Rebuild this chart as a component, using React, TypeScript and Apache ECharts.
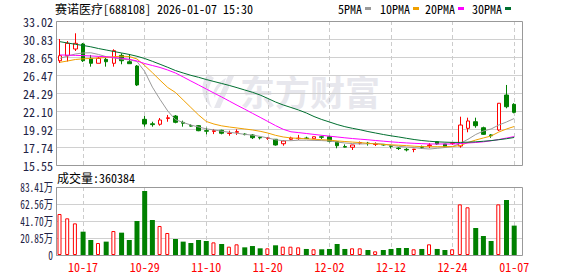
import React, { useEffect, useRef } from 'react';
import * as echarts from 'echarts';

const titleText = '赛诺医疗[688108] 2026-01-07 15:30';
const volumeTitle = '成交量:360384';
const watermark = '东方财富';

const dates = [
  '10-14', '10-15', '10-16', '10-17', '10-20', '10-21', '10-22', '10-23', '10-24', '10-27',
  '10-28', '10-29', '10-30', '10-31', '11-03', '11-04', '11-05', '11-06', '11-07', '11-10',
  '11-11', '11-12', '11-13', '11-14', '11-17', '11-18', '11-19', '11-20', '11-21', '11-24',
  '11-25', '11-26', '11-27', '11-28', '12-01', '12-02', '12-03', '12-04', '12-05', '12-08',
  '12-09', '12-10', '12-11', '12-12', '12-15', '12-16', '12-17', '12-18', '12-19', '12-22',
  '12-23', '12-24', '12-25', '12-26', '12-29', '12-30', '12-31', '01-05', '01-06', '01-07',
];
const labelDates = ['10-17', '10-29', '11-10', '11-20', '12-02', '12-12', '12-24', '01-07'];

const opens = [
  28.2, 28.81, 29.62, 30.23, 28.49, 27.89, 28.37, 27.89, 28.85, 28.08,
  27.56, 21.09, 20.55, 20.49, 21.2, 21.49, 20.72, 20.32, 20.32, 19.72,
  19.62, 19.76, 19.38, 19.52, 19.3, 19.19, 18.9, 18.78, 18.67, 18.13,
  18.67, 18.75, 18.82, 18.74, 18.97, 18.98, 18.38, 17.78, 17.7, 18.2,
  18.2, 18.05, 18.05, 17.88, 17.6, 17.45, 17.43, 17.8, 17.9, 18.38,
  18.1, 18.15, 17.85, 20.0, 20.8, 20.07, 19.2, 19.8, 24.04, 22.91,
];
const closes = [
  28.81, 30.31, 30.31, 28.2, 27.89, 28.49, 28.08, 29.42, 28.2, 27.84,
  25.26, 20.52, 20.45, 21.01, 21.28, 20.73, 20.62, 20.27, 19.71, 19.65,
  19.72, 19.4, 19.43, 19.6, 19.24, 18.86, 18.84, 18.83, 17.98, 18.46,
  18.82, 18.8, 18.76, 18.98, 18.92, 18.42, 17.89, 17.72, 17.98, 18.28,
  18.15, 18.1, 17.98, 17.82, 17.55, 17.38, 17.48, 17.7, 17.98, 18.1,
  17.73, 18.22, 20.4, 20.89, 20.32, 19.27, 19.1, 23.04, 22.62, 21.94,
];
const lows = [
  27.93, 28.11, 29.38, 28.05, 27.48, 27.89, 27.48, 27.48, 27.77, 27.84,
  25.13, 20.2, 20.2, 20.32, 20.8, 20.61, 20.2, 20.2, 19.65, 19.27,
  19.3, 19.27, 19.1, 19.2, 19.15, 18.7, 18.65, 18.6, 17.9, 17.89,
  18.55, 18.6, 18.7, 18.7, 18.7, 18.3, 17.58, 17.68, 17.37, 18.05,
  17.9, 17.85, 17.9, 17.55, 17.37, 17.2, 17.1, 17.5, 17.6, 18.0,
  17.7, 18.0, 17.65, 19.52, 20.07, 19.19, 18.85, 19.67, 22.43, 21.82,
];
const highs = [
  30.84, 30.59, 31.53, 30.35, 28.9, 28.69, 28.69, 29.59, 29.1, 29.02,
  27.68, 21.49, 20.8, 21.25, 21.62, 21.61, 20.93, 20.49, 20.4, 20.07,
  19.92, 19.83, 19.71, 19.88, 19.4, 19.3, 19.0, 18.95, 18.67, 18.58,
  18.98, 19.2, 18.98, 19.0, 19.1, 19.1, 18.38, 18.05, 18.0, 18.4,
  18.35, 18.3, 18.1, 18.0, 17.7, 17.6, 17.5, 17.9, 18.2, 18.4,
  18.1, 18.3, 21.41, 21.29, 21.29, 20.2, 19.3, 23.07, 25.26, 23.04,
];
const volumes = [
  503000, 450000, 388000, 286000, 184000, 147000, 164000, 294000, 274000, 184000,
  417000, 785000, 429000, 356000, 270000, 196000, 164000, 147000, 184000, 172000,
  155000, 135000, 102000, 131000, 94000, 110000, 82000, 82000, 119000, 102000,
  102000, 94000, 74000, 70000, 70000, 74000, 135000, 74000, 82000, 82000,
  61000, 45000, 61000, 74000, 86000, 86000, 70000, 74000, 131000, 74000,
  61000, 70000, 621000, 585000, 331000, 233000, 172000, 621000, 675000, 360384,
];
const ma5 = [
  28.49, 28.77, 29.02, 29.14, 29.17, 28.96, 28.69, 28.53, 28.39, 28.31,
  28.11, 26.9, 25.0, 23.5, 22.1, 21.05, 20.71, 20.4, 20.16, 19.94,
  19.8, 19.65, 19.52, 19.4, 19.27, 19.17, 19.02, 18.83, 18.61, 18.5,
  18.5, 18.56, 18.56, 18.53, 18.51, 18.46, 18.34, 18.22, 18.15, 18.1,
  18.13, 18.17, 18.07, 17.94, 17.82, 17.73, 17.66, 17.55, 17.49, 17.58,
  17.67, 17.79, 18.18, 18.67, 19.25, 19.67, 19.92, 20.4, 20.77, 21.19,
];
const ma10 = [
  28.01, 28.17, 28.35, 28.43, 28.48, 28.53, 28.59, 28.69, 28.75, 28.71,
  28.41, 27.62, 26.75, 25.83, 24.95, 24.35, 23.44, 22.53, 21.62, 20.83,
  20.52, 20.3, 20.16, 20.04, 19.92, 19.8, 19.64, 19.43, 19.15, 18.95,
  18.83, 18.78, 18.73, 18.67, 18.62, 18.57, 18.47, 18.4, 18.33, 18.27,
  18.18, 18.11, 18.05, 18.0, 17.95, 17.9, 17.83, 17.78, 17.77, 17.77,
  17.77, 17.79, 17.91, 18.28, 18.58, 18.83, 19.07, 19.55, 19.92, 20.22,
];
const ma20 = [
  28.9, 28.88, 28.85, 28.82, 28.78, 28.73, 28.68, 28.6, 28.5, 28.38,
  28.17, 27.86, 27.62, 27.38, 27.07, 26.71, 26.23, 25.74, 25.26, 24.77,
  24.28, 23.8, 23.3, 22.8, 22.32, 21.82, 21.33, 20.83, 20.33, 19.88,
  19.58, 19.48, 19.37, 19.26, 19.15, 19.05, 18.95, 18.85, 18.76, 18.68,
  18.61, 18.52, 18.44, 18.36, 18.29, 18.23, 18.18, 18.14, 18.1, 18.1,
  18.1, 18.1, 18.15, 18.22, 18.28, 18.36, 18.49, 18.64, 18.82, 19.0,
];
const ma30 = [
  30.51, 30.35, 30.19, 30.05, 29.89, 29.68, 29.5, 29.32, 29.14, 28.96,
  28.74, 28.47, 28.13, 27.77, 27.4, 27.01, 26.71, 26.43, 26.19, 25.92,
  25.68, 25.44, 25.2, 24.93, 24.65, 24.37, 24.04, 23.62, 23.19, 22.83,
  22.53, 22.22, 21.86, 21.43, 21.07, 20.77, 20.46, 20.2, 20.0, 19.82,
  19.61, 19.43, 19.25, 19.09, 18.95, 18.79, 18.64, 18.52, 18.43, 18.36,
  18.32, 18.29, 18.29, 18.32, 18.36, 18.43, 18.51, 18.62, 18.74, 18.89,
];
const maNames = ['5PMA', '10PMA', '20PMA', '30PMA'];
const maSeries = [ma5, ma10, ma20, ma30];
const maColors = ['#9a9a9a', '#f0a000', '#ff00ff', '#006f30'];

const priceTicks = ['15.55', '17.74', '19.92', '22.10', '24.29', '26.47', '28.65', '30.83', '33.02'];
const priceMin = 15.55;
const priceMax = 33.02;
const volTicks = ['0', '20.85万', '41.70万', '62.56万', '83.41万'];
const volMax = 834100;

const FONT = "'Noto Sans Mono CJK SC', 'Noto Sans CJK SC', 'Liberation Mono', monospace";
const UP = '#ff0000';
const DOWN = '#008000';
const WM = '#e7e7ed';

const LOGO_D =
  'M9 1 C1 10 1 24 13 35 C8 25 8 14 15 5 Z ' +
  'M15 35 L21 35 L35 3 L29 3 Z ' +
  'M14 20 C16 13 21 8 27 5 L25 11 C20 13 17 18 16 25 Z';
let logoRegistered = false;

export default function App() {
  const ref = useRef<HTMLDivElement>(null);
  useEffect(() => {
    if (!ref.current) return;
    if (!logoRegistered) {
      echarts.graphic.registerShape('emlogo', echarts.graphic.extendPath(LOGO_D, {}) as any);
      logoRegistered = true;
    }
    const chart = echarts.init(ref.current, undefined, { renderer: 'svg' });
    const showLabel = (idx: number) => labelDates.includes(dates[idx]);
    const isUp = dates.map((_, i) => closes[i] >= opens[i]);

    const legendX = [338, 380, 425, 472];
    const legendGraphics: any[] = [];
    maNames.forEach((n, k) => {
      legendGraphics.push({
        type: 'text', x: legendX[k], y: 8, z: 50,
        style: { text: n, fontSize: 12, fontFamily: FONT, fill: '#000', textVerticalAlign: 'middle' },
      });
      legendGraphics.push({
        type: 'rect', x: legendX[k] + (n.length * 6) + 3, y: 7, z: 50,
        shape: { width: 6, height: 3 }, style: { fill: maColors[k] },
      });
    });

    const baseGraphics: any[] = [
      {
        type: 'emlogo', x: 199, y: 73, z: -1, silent: true,
        style: { fill: WM },
      },
      {
        type: 'text', x: 240, y: 90, z: -1, silent: true,
        style: { text: watermark, fontSize: 35, fontWeight: 'bold', fontFamily: "'Noto Sans CJK SC'", fill: WM, textVerticalAlign: 'middle' },
      },
      {
        type: 'text', x: 55, y: 8, z: 50,
        style: { text: titleText, fontSize: 12, fontFamily: FONT, fill: '#000', textVerticalAlign: 'middle' },
      },
      ...legendGraphics,
      {
        type: 'text', x: 57, y: 177, z: 50,
        style: { text: volumeTitle, fontSize: 12, fontFamily: FONT, fill: '#000', textVerticalAlign: 'middle' },
      },
      { type: 'rect', z: 40, shape: { x: 56.5, y: 21.5, width: 466, height: 144 }, style: { fill: 'none', stroke: '#999', lineWidth: 1 } },
      { type: 'rect', z: 40, shape: { x: 56.5, y: 187.5, width: 466, height: 68 }, style: { fill: 'none', stroke: '#999', lineWidth: 1 } },
    ];

    const option: any = {
      animation: false,
      backgroundColor: '#ffffff',
      grid: [
        { left: 56, top: 21, width: 466, height: 144 },
        { left: 60, top: 21, width: 454.2, height: 144 },
        { left: 56, top: 187, width: 466, height: 68 },
        { left: 60, top: 187, width: 454.2, height: 68 },
      ],
      xAxis: [
        { gridIndex: 0, type: 'value', min: 0, max: 1, show: false },
        {
          gridIndex: 1, type: 'category', data: dates, boundaryGap: false,
          axisLine: { show: false }, axisTick: { show: false }, axisLabel: { show: false },
          splitLine: { show: true, interval: (i: number) => showLabel(i), lineStyle: { color: '#cccccc', type: [4, 3], width: 1 } },
        },
        { gridIndex: 2, type: 'value', min: 0, max: 1, show: false },
        {
          gridIndex: 3, type: 'category', data: dates, boundaryGap: false,
          axisLine: { show: false }, axisTick: { show: false },
          axisLabel: { show: true, interval: (i: number) => showLabel(i), color: UP, fontSize: 12, fontFamily: FONT, margin: 5 },
          splitLine: { show: true, interval: (i: number) => showLabel(i), lineStyle: { color: '#cccccc', type: [4, 3], width: 1 } },
        },
      ],
      yAxis: [
        {
          gridIndex: 0, type: 'value', min: 0, max: priceTicks.length - 1, interval: 1,
          axisLine: { show: false }, axisTick: { show: false },
          axisLabel: { formatter: (v: number) => priceTicks[v], color: '#222244', fontSize: 12, fontFamily: FONT, margin: 3 },
          splitLine: { show: true, lineStyle: { color: '#d0d0d0', width: 1 } },
        },
        { gridIndex: 1, type: 'value', min: priceMin, max: priceMax, show: false },
        {
          gridIndex: 2, type: 'value', min: 0, max: volTicks.length - 1, interval: 1,
          axisLine: { show: false }, axisTick: { show: false },
          axisLabel: { show: false },
          splitLine: { show: true, lineStyle: { color: '#d0d0d0', width: 1 } },
        },
        { gridIndex: 3, type: 'value', min: 0, max: volMax, show: false },
      ],
      series: [
        {
          type: 'candlestick', xAxisIndex: 1, yAxisIndex: 1, barWidth: 4, clip: false, z: 2,
          data: dates.map((_, i) => [opens[i], closes[i], lows[i], highs[i]]),
          itemStyle: { color: '#ffffff', color0: DOWN, borderColor: UP, borderColor0: DOWN, borderWidth: 1 },
        },
        ...maNames.map((n, k) => ({
          type: 'line', name: n, xAxisIndex: 1, yAxisIndex: 1, data: maSeries[k], symbol: 'none', z: 3,
          lineStyle: { color: maColors[k], width: 1 }, itemStyle: { color: maColors[k] },
        })),
        {
          type: 'bar', xAxisIndex: 3, yAxisIndex: 3, barWidth: 4, barGap: '-100%', clip: false,
          data: volumes.map((v, i) => (isUp[i] ? v : '-')),
          itemStyle: { color: '#ffffff', borderColor: UP, borderWidth: 1 },
        },
        {
          type: 'bar', xAxisIndex: 3, yAxisIndex: 3, barWidth: 5, barGap: '-100%', clip: false,
          data: volumes.map((v, i) => (isUp[i] ? '-' : v)),
          itemStyle: { color: DOWN },
        },
      ],
      graphic: baseGraphics,
    };
    chart.setOption(option);

    // volume axis labels: condensed text anchored on the axis ticks
    const volLabelGraphics = volTicks.map((t, k) => {
      const y = chart.convertToPixel({ yAxisIndex: 2 }, k) as number;
      return {
        type: 'text', x: 53, y, z: 50, scaleX: 0.78,
        style: { text: t, fontSize: 12, fontFamily: FONT, fill: '#222244', textAlign: 'right', textVerticalAlign: 'middle' },
      };
    });
    chart.setOption({ graphic: [...baseGraphics, ...volLabelGraphics] });
    return () => chart.dispose();
  }, []);
  return <div ref={ref} style={{ position: 'fixed', left: 0, top: 0, width: 578, height: 276 }} />;
}
